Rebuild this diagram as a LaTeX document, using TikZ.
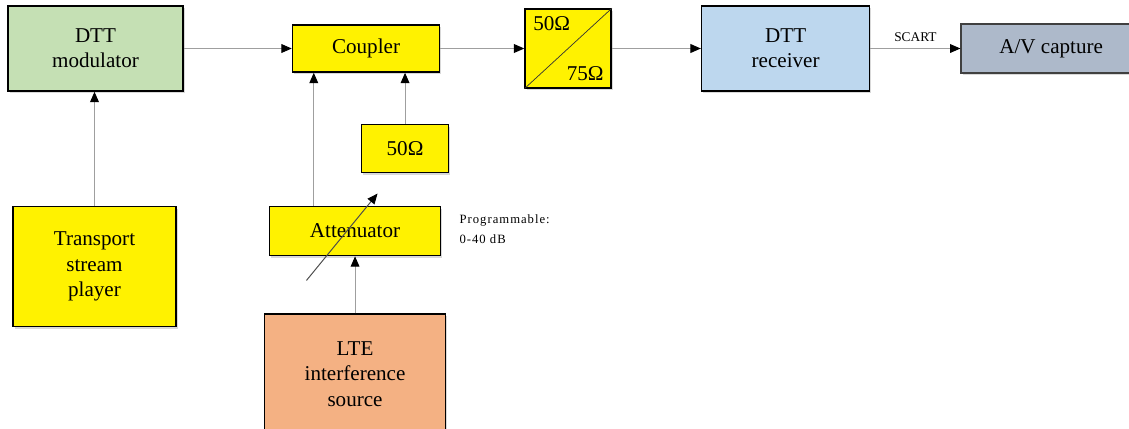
\documentclass[tikz,border=0pt]{standalone}
\usepackage{fontspec}
\setmainfont{Liberation Serif}
\newfontfamily\boxfont{Liberation Serif}
\usepackage{tikz}
\usetikzlibrary{positioning, arrows.meta, shadows}

\definecolor{modgreen}{HTML}{C5E0B4}
\definecolor{rxblue}{HTML}{BDD7EE}
\definecolor{capgrey}{HTML}{ADB9CA}
\definecolor{lteorange}{HTML}{F4B183}

\begin{document}
\begin{tikzpicture}[
    node distance=1.5cm,
    block/.style={rectangle, draw=black, line width=1.1pt, align=center, inner sep=2pt,
        font=\boxfont\fontsize{15}{18}\selectfont,
        drop shadow={shadow xshift=1.2pt, shadow yshift=-1.5pt, opacity=0.3}},
    yblock/.style={block, fill=yellow},
    arrow/.style={-{Triangle[length=2.6mm, width=2.2mm, black]}, draw=gray!75, line width=0.7pt}
]
\clip (0,0) rectangle (28.225,-10.7);

% Nodes
\node (DTTMod) [block, fill=modgreen, minimum width=4.375cm, minimum height=2.125cm] at (2.3875,-1.2125) {DTT\\modulator};
\node (Coupler) [yblock, minimum width=3.675cm, minimum height=1.175cm, right=2.7cm of DTTMod] {Coupler};
\node (Match) [yblock, minimum width=2.15cm, minimum height=1.975cm, right=2.1cm of Coupler] {};
\node (DTTRx) [block, fill=rxblue, minimum width=4.2cm, minimum height=2.125cm, right=2.225cm of Match] {DTT\\receiver};
\node (AVCap) [block, fill=capgrey, draw=black!75, minimum width=4.5cm, minimum height=1.225cm, right=2.25cm of DTTRx] {A/V capture};

\node (Player) [yblock, minimum width=4.075cm, minimum height=3cm, below=2.85cm of DTTMod, xshift=-0.025cm] {Transport\\stream\\player};
\node (Atten) [yblock, minimum width=4.275cm, minimum height=1.225cm, right=2.3cm of Player.north east, anchor=north west] {Attenuator};
\node (LTESource) [block, fill=lteorange, minimum width=4.525cm, minimum height=3cm, below=1.425cm of Atten] {LTE\\interference\\source};
\node (Term) [yblock, minimum width=2.175cm, minimum height=1.2cm, below=1.275cm of Coupler.south east, anchor=north east, xshift=0.225cm] {50Ω};

\node (ProgNote) [right=0.45cm of Atten.north east, anchor=north west, yshift=-0.22cm, inner sep=0pt, align=left,
    font=\boxfont\fontsize{9}{14}\selectfont\addfontfeature{LetterSpace=8}] {Programmable:\\0-40 dB};

% 50/75 matching pad
\draw [line width=0.5pt, black!80] (Match.south west) -- (Match.north east);
\node (MatchIn) [anchor=north west, inner sep=0pt, font=\boxfont\fontsize{15}{18}\selectfont] at ([xshift=0.22cm, yshift=-0.2cm]Match.north west) {50Ω};
\node (MatchOut) [anchor=south east, inner sep=0pt, font=\boxfont\fontsize{15}{18}\selectfont] at ([xshift=-0.2cm, yshift=0.2cm]Match.south east) {75Ω};

% Arrows
\coordinate (AttenOut) at ([xshift=1.125cm]Atten.north west);
\coordinate (VarStart) at ([shift={(-1.215,-1.235)}]Atten.center);
\coordinate (VarEnd) at ([shift={(0.5625,0.9375)}]Atten.center);

\draw [arrow] (DTTMod) -- (Coupler);
\draw [arrow] (Player.north) -- (Player.north |- DTTMod.south);
\draw [arrow] (AttenOut) -- (AttenOut |- Coupler.south);
\draw [arrow] (Term.north) -- (Term.north |- Coupler.south);
\draw [arrow] (LTESource) -- (Atten);
\draw [arrow] (Coupler) -- (Match);
\draw [arrow] (Match) -- (DTTRx);
\draw [arrow] (DTTRx) -- node (ScartLabel) [above, font=\boxfont\fontsize{9.5}{11}\selectfont, yshift=0.05cm] {SCART} (AVCap);
\draw [arrow, draw=black!70] (VarStart) -- (VarEnd);

\end{tikzpicture}
\end{document}
